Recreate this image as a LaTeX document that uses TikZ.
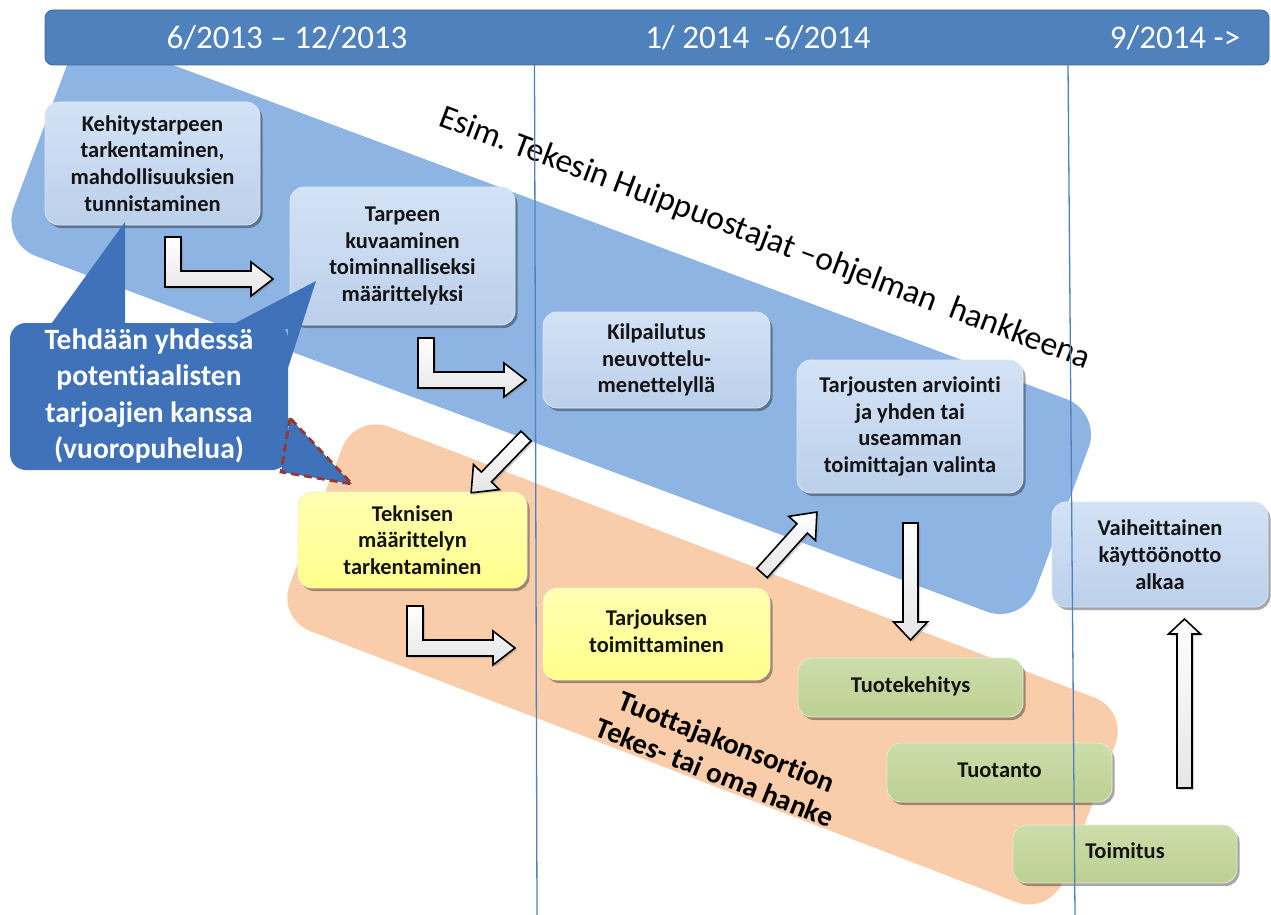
\documentclass[tikz,border=0pt]{standalone}
\usepackage{fontspec}
\setmainfont{Carlito}[Ligatures={TeX,NoCommon}]
\usetikzlibrary{shadows}
\frenchspacing

\definecolor{barblue}{HTML}{4F81BD}
\definecolor{bandblue}{HTML}{8EB4E3}
\definecolor{callblue}{HTML}{3F72B8}
\definecolor{bandpeach}{HTML}{F9CDAA}
\definecolor{dashred}{HTML}{953735}
\definecolor{txtdark}{HTML}{141414}
\definecolor{bluetop}{HTML}{D3E2F5}
\definecolor{bluebot}{HTML}{BCD0EB}
\definecolor{blueedge}{HTML}{DCE7F5}
\definecolor{yeltop}{HTML}{FFFFB2}
\definecolor{yelbot}{HTML}{FFFF8C}
\definecolor{yeledge}{HTML}{F0F0C8}
\definecolor{grntop}{HTML}{CCDDAA}
\definecolor{grnbot}{HTML}{BDD092}
\definecolor{grnedge}{HTML}{E2ECD2}

\newcommand\boxfont{\fontsize{22.5}{26.7}\selectfont\bfseries}

% straight block arrow: tail x, tail y, angle, length, shaft half width, head half width, head length
\newcommand\myblockarrow[7]{%
  \begin{scope}[shift={(#1,#2)},rotate=#3]
    \draw[blockarrow] (0,-#5) -- ({#4-#7},-#5) -- ({#4-#7},-#6) -- (#4,0)
      -- ({#4-#7},#6) -- ({#4-#7},#5) -- (0,#5) -- cycle;
  \end{scope}}
% elbow block arrow, origin at the top left corner of its stem
\newcommand\myelbowarrow[2]{%
  \draw[blockarrow,shift={(#1,#2)}] (0,0) -- (16,0) -- (16,34) -- (86,34) -- (86,25)
    -- (108,42) -- (86,59) -- (86,50) -- (0,50) -- cycle;}

\begin{document}
\begin{tikzpicture}[x=1pt,y=-1pt,
  boxbase/.style={rectangle, rounded corners=14pt, line width=0.8pt, align=center,
    text=txtdark, font=\boxfont, inner sep=2pt,
    drop shadow={shadow xshift=2.5pt, shadow yshift=-3pt, opacity=0.35, fill=black}},
  bluebox/.style={boxbase, draw=blueedge, top color=bluetop, bottom color=bluebot},
  yellowbox/.style={boxbase, draw=yeledge, top color=yeltop, bottom color=yelbot},
  greenbox/.style={boxbase, draw=grnedge, top color=grntop, bottom color=grnbot},
  blockarrow/.style={draw=black, line width=1.6pt, line join=miter, top color=white,
    bottom color=black!10, drop shadow={shadow xshift=2pt, shadow yshift=-2pt, opacity=0.35}},
  vline/.style={draw=barblue, line width=1.3pt},
  datetext/.style={text=white, font=\fontsize{33}{40}\selectfont, inner sep=0pt}
]
\useasboundingbox (0,0) rectangle (1271,915);

% the two phase bands
\node[fill=bandblue, rotate=-20.5, minimum width=1091pt, minimum height=227pt,
  rounded corners=38pt, inner sep=0pt] (progband) at (551.2,327.6) {};
\node[fill=bandpeach, rotate=-21, minimum width=828pt, minimum height=219pt,
  rounded corners=36pt, inner sep=0pt] (prodband) at (702.5,664.4) {};

% timeline bar
\node[fill=barblue, draw=barblue!80!black, line width=0.8pt, rounded corners=8pt,
  minimum width=1224pt, minimum height=55pt, inner sep=0pt] (bar) at (657,37.5) {};
\node[datetext] (p1) at (287,38) {6/2013 – 12/2013};
\node[datetext] (p2) at (758,38) {1/ 2014 \ -6/2014};
\node[datetext] (p3) at (1175,38) {9/2014 ->};

% process steps
\node[bluebox, minimum width=215pt, minimum height=123pt] (keh) at (152.5,163.5)
  {Kehitystarpeen\\tarkentaminen,\\mahdollisuuksien\\tunnistaminen};
\node[bluebox, minimum width=225pt, minimum height=138pt] (tar) at (402.5,256)
  {Tarpeen\\kuvaaminen\\toiminnalliseksi\\määrittelyksi};
\node[bluebox, minimum width=227pt, minimum height=96pt] (kil) at (656.5,360)
  {Kilpailutus\\neuvottelu-\\menettelyllä};
\node[bluebox, minimum width=226pt, minimum height=133pt] (arv) at (910,426.5)
  {Tarjousten arviointi\\ja yhden tai\\useamman\\toimittajan valinta};
\node[bluebox, minimum width=216pt, minimum height=105pt] (vai) at (1160,554.5)
  {Vaiheittainen\\käyttöönotto\\alkaa};
\node[yellowbox, minimum width=229pt, minimum height=96pt] (tek) at (412.5,540)
  {Teknisen\\määrittelyn\\tarkentaminen};
\node[yellowbox, minimum width=227pt, minimum height=92pt] (tjk) at (656.5,634)
  {\raisebox{9pt}{\begin{tabular}{@{}c@{}}Tarjouksen\\toimittaminen\end{tabular}}};
\node[greenbox, minimum width=225pt, minimum height=59pt] (tkh) at (910.5,687.5)
  {\raisebox{5pt}{Tuotekehitys}};
\node[greenbox, minimum width=225pt, minimum height=59pt] (tto) at (999.5,772.5)
  {\raisebox{5pt}{Tuotanto}};
\node[greenbox, minimum width=224pt, minimum height=58pt] (tms) at (1125,854)
  {\raisebox{6pt}{Toimitus}};

% block arrows between the steps
\myelbowarrow{165}{237}
\myelbowarrow{418}{338}
\myelbowarrow{407}{606}
\myblockarrow{526}{436}{-134}{79}{7}{18}{22}
\myblockarrow{762}{573}{48}{82}{7}{18}{22}
\myblockarrow{910.5}{523}{-90}{117}{7.5}{17}{18}
\myblockarrow{1184.5}{788}{90}{169}{7.5}{16}{15}

% speech callout with its pointers
\fill[callblue, rounded corners=16pt] (10,323) rectangle (288,470);
\fill[callblue] (46,331) -- (125,222) -- (125,331) -- cycle;
\fill[callblue] (224,329) -- (316,281) -- (288,368) -- (288,329) -- cycle;
\draw[fill=callblue, draw=dashred, line width=2.8pt, dash pattern=on 8pt off 5pt]
  (290,418) -- (281,472) -- (352,484) -- cycle;
\node[text=white, font=\fontsize{29.5}{36.5}\selectfont\bfseries, align=center,
  inner sep=0pt] (calltext) at (149,396)
  {Tehdään yhdessä\\potentiaalisten\\tarjoajien kanssa\\(vuoropuhelua)};

% band captions
\node[font=\fontsize{33.5}{40}\selectfont, rotate=-20.6, anchor=base west,
  inner sep=0pt] (progcap) at (437,125)
  {Esim. Tekesin Huippuostajat –ohjelman \ hankkeena};
\node[font=\fontsize{29}{33}\selectfont\bfseries, rotate=-21.5, align=center,
  inner sep=0pt] (prodcap) at (721,757)
  {Tuottajakonsortion\\Tekes- tai oma hanke};

% phase dividers
\coordinate (div1top) at (534.5,65);
\coordinate (div1bot) at (537,915);
\coordinate (div2top) at (1068,65);
\coordinate (div2bot) at (1075,915);
\draw[vline] (div1top) -- (div1bot);
\draw[vline] (div2top) -- (div2bot);
\end{tikzpicture}
\end{document}
